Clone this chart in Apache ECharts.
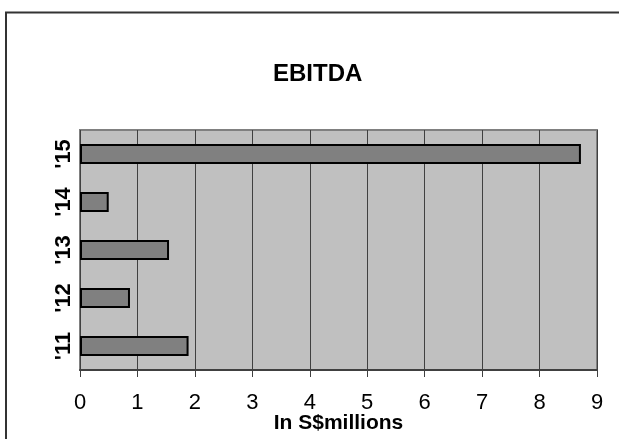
<!DOCTYPE html>
<html>
<head>
<meta charset="utf-8">
<script src="https://cdn.jsdelivr.net/npm/echarts@6/dist/echarts.min.js"></script>
<style>
html,body{margin:0;padding:0;background:#fff;}
#chart{width:619px;height:439px;}
</style>
</head>
<body>
<div id="chart"></div>
<script>
const categories = ["'11", "'12", "'13", "'14", "'15"];
const ebitda = [1.89, 0.87, 1.55, 0.5, 8.72];
const xTicks = [0, 1, 2, 3, 4, 5, 6, 7, 8, 9];
const titleText = 'EBITDA';
const xAxisName = 'In S$millions';

const chart = echarts.init(document.getElementById('chart'), null, {renderer: 'canvas'});
const FONT = 'Liberation Sans, Arial, sans-serif';
chart.setOption({
  backgroundColor: '#ffffff',
  animation: false,
  title: {
    text: titleText,
    left: 273,
    top: 62,
    padding: 0,
    textStyle: {fontFamily: FONT, fontWeight: 'bold', fontSize: 24, color: '#000'}
  },
  graphic: [{
    type: 'rect',
    shape: {x: 6, y: 12.5, width: 640, height: 460},
    style: {fill: 'none', stroke: '#333333', lineWidth: 2},
    silent: true
  }],
  grid: {
    left: 80, right: 22, top: 130, bottom: 69,
    outerBoundsMode: 'none',
    containLabel: false,
    show: true,
    backgroundColor: '#c0c0c0',
    borderColor: '#808080',
    borderWidth: 2
  },
  xAxis: {
    type: 'value',
    min: xTicks[0],
    max: xTicks[xTicks.length - 1],
    interval: 1,
    name: xAxisName,
    nameLocation: 'middle',
    nameGap: 43,
    nameMoveOverlap: false,
    nameTextStyle: {fontFamily: FONT, fontWeight: 'bold', fontSize: 21, color: '#000'},
    axisLine: {show: true, lineStyle: {color: '#404040', width: 2}},
    axisTick: {show: true, length: 7, lineStyle: {color: '#404040', width: 1}},
    axisLabel: {fontFamily: FONT, fontSize: 22, color: '#000', margin: 22},
    splitLine: {show: true, lineStyle: {color: '#404040', width: 1}}
  },
  yAxis: {
    type: 'category',
    data: categories,
    axisLine: {show: false},
    axisTick: {show: false},
    axisLabel: {rotate: 90, fontFamily: FONT, fontWeight: 'bold', fontSize: 22, color: '#000', margin: 5},
    splitLine: {show: false}
  },
  series: [{
    type: 'bar',
    data: ebitda,
    barWidth: '42%',
    itemStyle: {color: '#808080', borderColor: '#000', borderWidth: 2}
  }]
});
</script>
</body>
</html>
